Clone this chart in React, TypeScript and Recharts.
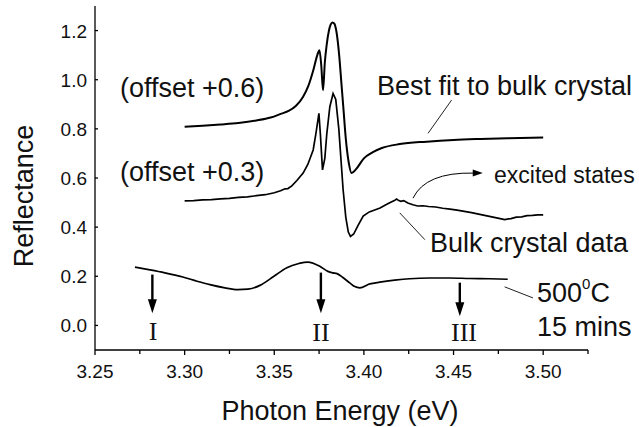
import React from "react";
import { LineChart, Line, XAxis, YAxis, ReferenceLine } from "recharts";

const SANS = "'Liberation Sans', Arial, Helvetica, sans-serif";
const SERIF = "'Liberation Serif', 'Times New Roman', serif";

// best fit to the bulk crystal spectrum (offset +0.6)
const fitEnergy = [
  3.300, 3.310, 3.320, 3.330, 3.340, 3.348, 3.354, 3.358, 3.362, 3.366, 3.369,
  3.372, 3.374, 3.3752, 3.3762, 3.3772, 3.3782, 3.3792, 3.3805, 3.3815, 3.3825,
  3.3835, 3.3848, 3.3862, 3.3874, 3.3886, 3.3899, 3.3916, 3.3931, 3.3955, 3.400,
  3.405, 3.410, 3.420, 3.435, 3.450, 3.465, 3.480, 3.500,
];
const fitReflect = [
  0.809, 0.813, 0.818, 0.824, 0.834, 0.846, 0.862, 0.873, 0.893, 0.93, 0.975,
  1.045, 1.10, 1.12, 1.06, 0.957, 1.07, 1.14, 1.20, 1.225, 1.233,
  1.228, 1.19, 1.10, 0.99, 0.88, 0.76, 0.66, 0.62, 0.635, 0.68,
  0.705, 0.722, 0.738, 0.748, 0.755, 0.759, 0.762, 0.765,
];

// measured bulk crystal reflectance (offset +0.3)
const bulkEnergy = [
  3.300, 3.305, 3.310, 3.315, 3.320, 3.325, 3.330, 3.335, 3.340, 3.345, 3.350,
  3.3535, 3.356, 3.3576, 3.3598, 3.3626, 3.3661, 3.3687, 3.3717, 3.3732, 3.3749,
  3.3757, 3.3769, 3.3782, 3.3793, 3.381, 3.3828, 3.3843, 3.386, 3.3884, 3.3899,
  3.3913, 3.3925, 3.3943, 3.3966, 3.3996, 3.403, 3.406, 3.409, 3.412, 3.4144,
  3.417, 3.4182, 3.4195, 3.4206, 3.4222, 3.4245, 3.4273, 3.430, 3.433, 3.436,
  3.440, 3.444, 3.448, 3.452, 3.456, 3.460, 3.464, 3.468, 3.472, 3.476,
  3.4785, 3.482, 3.485, 3.488, 3.491, 3.494, 3.497, 3.500,
];
const bulkReflect = [
  0.507, 0.508, 0.511, 0.512, 0.515, 0.517, 0.521, 0.523, 0.528, 0.532, 0.54,
  0.548, 0.556, 0.557, 0.568, 0.59, 0.62, 0.655, 0.714, 0.78, 0.863,
  0.78, 0.633, 0.68, 0.78, 0.89, 0.944, 0.92, 0.80, 0.552, 0.44,
  0.38, 0.362, 0.372, 0.405, 0.445, 0.462, 0.47, 0.478, 0.49, 0.499,
  0.508, 0.514, 0.508, 0.505, 0.508, 0.498, 0.491, 0.486, 0.487, 0.484,
  0.482, 0.477, 0.473, 0.469, 0.464, 0.459, 0.453, 0.447, 0.441, 0.435,
  0.431, 0.435, 0.441, 0.442, 0.447, 0.448, 0.45, 0.45,
];

// film annealed at 500 C for 15 mins
const annealEnergy = [
  3.2723, 3.2807, 3.289, 3.299, 3.3069, 3.3141, 3.3225, 3.3297, 3.3353, 3.342,
  3.3498, 3.357, 3.3637, 3.3687, 3.3754, 3.3799, 3.3827, 3.385, 3.3883, 3.3921,
  3.3949, 3.3977, 3.4033, 3.4089, 3.4172, 3.4256, 3.4367, 3.4479, 3.459, 3.4702,
  3.4802,
];
const annealReflect = [
  0.237, 0.226, 0.214, 0.197, 0.18, 0.166, 0.153, 0.146, 0.148, 0.163,
  0.2, 0.235, 0.252, 0.258, 0.241, 0.22, 0.214, 0.211, 0.195, 0.173,
  0.158, 0.153, 0.169, 0.176, 0.184, 0.19, 0.193, 0.193, 0.191, 0.19,
  0.188,
];

const xTicks = [
  3.25, 3.275, 3.3, 3.325, 3.35, 3.375, 3.4, 3.425, 3.45, 3.475, 3.5, 3.525,
];
const yTicks = [0, 0.2, 0.4, 0.6, 0.8, 1.0, 1.2];

// peak markers I, II, III: energy, arrow top, arrow tip
const peakMarks = [
  { label: "I", e: 3.282, from: 0.207, to: 0.05 },
  { label: "II", e: 3.376, from: 0.215, to: 0.05 },
  { label: "III", e: 3.4535, from: 0.174, to: 0.037 },
];

// thin leader lines from the captions to their curves
const leaders = [
  [{ x: 3.4489, y: 0.917 }, { x: 3.4358, y: 0.782 }],
  [{ x: 3.42, y: 0.458 }, { x: 3.434, y: 0.349 }],
  [{ x: 3.4785, y: 0.157 }, { x: 3.4943, y: 0.112 }],
];
const excitedArrow = [{ x: 3.4274, y: 0.518 }, { x: 3.4663, y: 0.62 }];

const toPoints = (xs: number[], ys: number[]) => xs.map((e, i) => ({ e, r: ys[i] }));
const fitData = toPoints(fitEnergy, fitReflect);
const bulkData = toPoints(bulkEnergy, bulkReflect);
const annealData = toPoints(annealEnergy, annealReflect);

function XTick(props: any) {
  const { x, y, payload } = props;
  const v = payload.value as number;
  const major = Math.round(v * 1000) % 50 === 0;
  return (
    <g>
      <line x1={x} x2={x} y1={y} y2={y + (major ? 5 : 4)} stroke="#000" strokeWidth={1.3} />
      {major && (
        <text x={x} y={y + 28} textAnchor="middle" fontSize={19} fontFamily={SANS} fill="#111">
          {v.toFixed(2)}
        </text>
      )}
    </g>
  );
}

function YTick(props: any) {
  const { x, y, payload } = props;
  const v = payload.value as number;
  return (
    <g>
      <line x1={x} x2={x + 3} y1={y} y2={y} stroke="#000" strokeWidth={1.3} />
      <text x={x - 8} y={y + 7} textAnchor="end" fontSize={19} fontFamily={SANS} fill="#111">
        {v.toFixed(1)}
      </text>
    </g>
  );
}

// straight arrow with a filled head at the second end
function DownArrow(props: any) {
  const { x1, y1, x2, y2 } = props;
  return (
    <g>
      <line x1={x1} y1={y1} x2={x2} y2={y2 - 12} stroke="#000" strokeWidth={2.4} />
      <polygon points={`${x2 - 4.5},${y2 - 14} ${x2 + 4.5},${y2 - 14} ${x2},${y2}`} fill="#000" />
    </g>
  );
}

// curved pointer to the excited state feature
function CurvedArrow(props: any) {
  const { x1, y1, x2, y2 } = props;
  const cx = x1 + (x2 - x1) * 0.18;
  const cy = y2 - 1;
  return (
    <g>
      <path d={`M${x1},${y1} Q${cx},${cy} ${x2 - 9},${y2}`} fill="none" stroke="#000" strokeWidth={1} />
      <polygon points={`${x2 - 10},${y2 - 3.5} ${x2 - 10},${y2 + 3.5} ${x2},${y2}`} fill="#000" />
    </g>
  );
}

export default function App() {
  return (
    <div style={{ position: "absolute", left: 0, top: 0, width: 639, height: 427, background: "#fff" }}>
      <LineChart width={639} height={427} margin={{ top: 6, right: 51, bottom: 0, left: 0 }}>
        <XAxis
          type="number"
          dataKey="e"
          domain={[3.25, 3.525]}
          ticks={xTicks}
          interval={0}
          height={77}
          allowDataOverflow
          tickSize={0}
          tickMargin={0}
          tick={<XTick />}
          axisLine={{ stroke: "#000", strokeWidth: 1.3 }}
          tickLine={false}
        />
        <YAxis
          type="number"
          domain={[-0.1, 1.3]}
          ticks={yTicks}
          interval={0}
          width={95}
          allowDataOverflow
          tickSize={0}
          tickMargin={0}
          tick={<YTick />}
          axisLine={{ stroke: "#000", strokeWidth: 1.3 }}
          tickLine={false}
        />
        <Line data={fitData} dataKey="r" type="monotone" stroke="#000" strokeWidth={2} dot={false} isAnimationActive={false} />
        <Line data={bulkData} dataKey="r" type="linear" stroke="#000" strokeWidth={1.7} dot={false} isAnimationActive={false} />
        <Line data={annealData} dataKey="r" type="monotone" stroke="#000" strokeWidth={1.7} dot={false} isAnimationActive={false} />
        {leaders.map((seg, i) => (
          <ReferenceLine key={`lead-${i}`} segment={seg} stroke="#222" strokeWidth={1} ifOverflow="visible" />
        ))}
        <ReferenceLine segment={excitedArrow} ifOverflow="visible" shape={(p: any) => <CurvedArrow {...p} />} />
        {peakMarks.map((m) => (
          <ReferenceLine
            key={m.label}
            segment={[{ x: m.e, y: m.from }, { x: m.e, y: m.to }]}
            ifOverflow="visible"
            shape={(p: any) => <DownArrow {...p} />}
          />
        ))}
      </LineChart>
      <svg width={639} height={427} style={{ position: "absolute", left: 0, top: 0, pointerEvents: "none" }}>
        <g fontFamily={SANS} fill="#111">
          <text x={120} y={97} fontSize={27}>(offset +0.6)</text>
          <text x={120} y={181} fontSize={27}>(offset +0.3)</text>
          <text x={377} y={95} fontSize={27}>Best fit to bulk crystal</text>
          <text x={494} y={183} fontSize={23}>excited states</text>
          <text x={430} y={252} fontSize={27}>Bulk crystal data</text>
          <text x={537} y={302} fontSize={27}>
            500<tspan fontSize={15} dy={-13}>0</tspan><tspan dy={13}>C</tspan>
          </text>
          <text x={537} y={336} fontSize={27}>15 mins</text>
          <text x={340} y={420} fontSize={27} textAnchor="middle">Photon Energy (eV)</text>
          <text x={33} y={196} fontSize={27} textAnchor="middle" transform="rotate(-90 33 196)">Reflectance</text>
        </g>
        <g fontFamily={SERIF} fill="#111" fontSize={26} textAnchor="middle">
          <text x={153} y={340}>I</text>
          <text x={321} y={341}>II</text>
          <text x={464} y={341}>III</text>
        </g>
      </svg>
    </div>
  );
}
